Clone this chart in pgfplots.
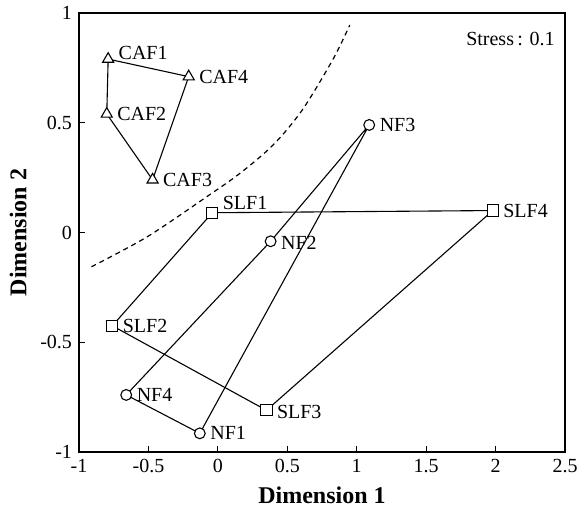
\documentclass[border=0pt]{standalone}
\usepackage{fontspec}
\setmainfont{Liberation Serif}
\usepackage{pgfplots}
\usepackage{pgfplotstable}
\pgfplotsset{compat=1.18}

% MDS configuration, coordinates
\pgfplotstableread{
x y dy label
-0.79 0.79 3 CAF1
-0.21 0.71 0 CAF4
-0.47 0.24 0 CAF3
-0.80 0.54 0 CAF2
}\caf
\pgfplotstableread{
x y dy label
-0.04 0.09 5 SLF1
1.98 0.10 0 SLF4
0.35 -0.81 -1 SLF3
-0.76 -0.425 0 SLF2
}\slf
\pgfplotstableread{
x y dy label
1.09 0.49 0 NF3
0.38 -0.04 -1 NF2
-0.66 -0.74 0 NF4
-0.13 -0.915 0 NF1
}\nf

\pgfplotsset{
  labelled/.style={only marks, mark options={fill=white, line width=0.55pt},
    point meta=explicit symbolic, nodes near coords,
    visualization depends on={\thisrow{dy} \as \dy},
    nodes near coords style={anchor=west, inner sep=1pt, xshift=4pt, yshift=\dy pt,
      font=\fontsize{10}{12}\selectfont}},
}

\begin{document}
\begin{tikzpicture}
\begin{axis}[
  scale only axis,
  width=243pt, height=219.5pt,
  xmin=-1, xmax=2.5, ymin=-1, ymax=1,
  xtick={-1,-0.5,0,0.5,1,1.5,2,2.5},
  ytick={-1,-0.5,0,0.5,1},
  tick pos=left, tick align=inside,
  major tick length=3pt,
  axis line style={line width=0.8pt},
  tick style={black, line width=0.6pt},
  /pgf/number format/assume math mode=true,
  ticklabel style={font=\fontsize{10}{12}\selectfont},
  xlabel={\textbf{Dimension 1}},
  ylabel={\textbf{Dimension 2}},
  label style={font=\fontsize{12}{14}\selectfont},
  every axis plot/.append style={black, line width=0.55pt},
]
% boundary
\addplot[smooth, dash pattern=on 2.5pt off 2pt, line width=0.6pt] coordinates {
(-0.91,-0.156) (-0.51,-0.02) (-0.08,0.163) (0.16,0.27) (0.40,0.40) (0.61,0.56) (0.83,0.79) (0.95,0.945)};
% polygons
\addplot[mark=none] table[x=x,y=y] {\caf} -- cycle;
\addplot[mark=none] table[x=x,y=y] {\slf} -- cycle;
\addplot[mark=none] table[x=x,y=y] {\nf} -- cycle;
% points with labels
\addplot[labelled, mark=triangle*, mark size=3.2pt] table[x=x,y=y,meta=label] {\caf};
\addplot[labelled, mark=square*, mark size=2.8pt] table[x=x,y=y,meta=label] {\slf};
\addplot[labelled, mark=*, mark size=2.7pt] table[x=x,y=y,meta=label] {\nf};
\node[anchor=north east, inner sep=0pt, font=\fontsize{10}{12}\selectfont]
  at ([xshift=-5pt,yshift=-9.5pt]rel axis cs:1,1) {Stress\,: 0.1};
\end{axis}
\pgfresetboundingbox
\path ([shift={(-39.5pt,-30pt)}]current axis.south west) rectangle ([shift={(10pt,6.5pt)}]current axis.north east);
\end{tikzpicture}
\end{document}
